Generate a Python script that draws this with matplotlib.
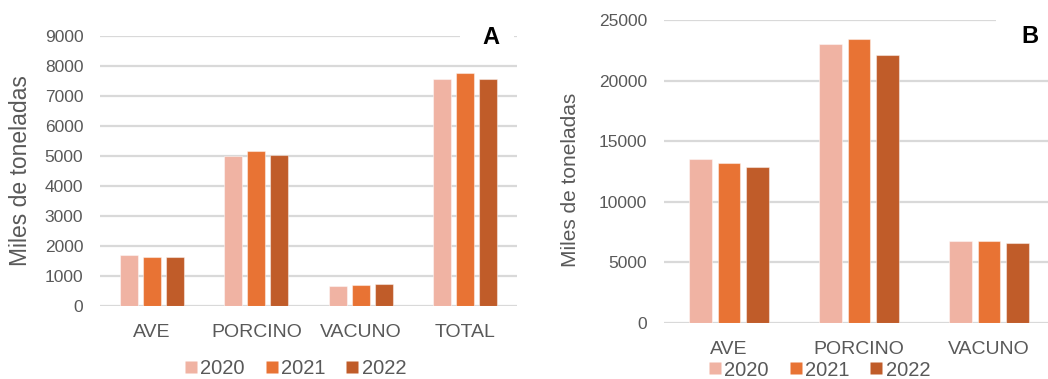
import matplotlib
matplotlib.use("Agg")
import matplotlib.pyplot as plt
import numpy as np
from matplotlib.patches import Rectangle
from matplotlib.lines import Line2D

plt.rcParams['font.family'] = ['Liberation Sans', 'DejaVu Sans']

years = ["2020", "2021", "2022"]
colors = ["#F0B3A3", "#E87334", "#C05C29"]

# Panel A: production (miles de toneladas)
cats_a = ["AVE", "PORCINO", "VACUNO", "TOTAL"]
a_2020 = [1690, 5000, 670, 7570]
a_2021 = [1630, 5170, 700, 7760]
a_2022 = [1630, 5020, 730, 7570]
yticks_a = [0, 1000, 2000, 3000, 4000, 5000, 6000, 7000, 8000, 9000]

# Panel B
cats_b = ["AVE", "PORCINO", "VACUNO"]
b_2020 = [13500, 23050, 6780]
b_2021 = [13170, 23400, 6780]
b_2022 = [12830, 22080, 6610]
yticks_b = [0, 5000, 10000, 15000, 20000, 25000]

TXT = "#595959"
GRID = "#D9D9D9"
W, H = 1048, 379

fig = plt.figure(figsize=(W / 100, H / 100), dpi=100)


def px_axes(left, right, bottom, top):
    return fig.add_axes([left / W, (H - bottom) / H, (right - left) / W, (bottom - top) / H])


def draw_panel(ax, cats, series, yticks, ymax):
    x = np.arange(len(cats))
    width = 0.172
    offs = [-0.22, 0.0, 0.22]
    for vals, off, col, lab in zip(series, offs, colors, years):
        ax.bar(x + off, vals, width, color=col, edgecolor=(1, 1, 1, 0.45),
               linewidth=0.8, label=lab, zorder=3)
    ax.set_xlim(-0.5, len(cats) - 0.5)
    ax.set_ylim(0, ymax)
    ax.set_yticks(yticks)
    ax.set_yticklabels([str(v) for v in yticks])
    ax.set_xticks(x)
    ax.set_xticklabels(cats)
    for s in ax.spines.values():
        s.set_visible(False)
    ax.grid(axis="y", color=GRID, linewidth=1.6, zorder=0)
    ax.set_axisbelow(True)
    ax.tick_params(axis="y", length=0, pad=12, labelsize=12.5, labelcolor=TXT)
    ax.tick_params(axis="x", length=0, pad=13, labelsize=14, labelcolor=TXT)


ax_a = px_axes(100, 517, 306, 35.7)
draw_panel(ax_a, cats_a, [a_2020, a_2021, a_2022], yticks_a, 9000)

ax_b = px_axes(664, 1054, 322.7, 20)
draw_panel(ax_b, cats_b, [b_2020, b_2021, b_2022], yticks_b, 25000)

# y-axis titles
fig.text(21 / W, (H - 171) / H, "Miles de toneladas", rotation=90, ha="center",
         va="center", fontsize=16.5, color=TXT)
fig.text(570 / W, (H - 180) / H, "Miles de toneladas", rotation=90, ha="center",
         va="center", fontsize=15, color=TXT)

# panel letters on white boxes interrupting the top gridline
fig.add_artist(Rectangle((460 / W, (H - 52) / H), 54 / W, 30 / H,
                         transform=fig.transFigure, facecolor="white",
                         edgecolor="none", zorder=1))
fig.add_artist(Rectangle((996 / W, (H - 52) / H), 60 / W, 44 / H,
                         transform=fig.transFigure, facecolor="white",
                         edgecolor="none", zorder=1))
fig.text(490.5 / W, (H - 37.5) / H, "A", ha="center", va="center",
         fontsize=17, fontweight="bold", color="black", zorder=2)
fig.text(1030 / W, (H - 36.5) / H, "B", ha="center", va="center",
         fontsize=17, fontweight="bold", color="black", zorder=2)

# legends
handles = [Line2D([], [], marker="s", linestyle="none", markersize=9,
                  markerfacecolor=c, markeredgecolor="none") for c in colors]
fig.legend(handles, years, loc="center", bbox_to_anchor=(295 / W, (H - 369) / H),
           ncol=3, frameon=False, fontsize=14.5, labelcolor=TXT,
           handlelength=0.7, handletextpad=0.1, columnspacing=1.0,
           borderpad=0, borderaxespad=0)
fig.legend(handles, years, loc="center", bbox_to_anchor=(819 / W, (H - 370) / H),
           ncol=3, frameon=False, fontsize=14.5, labelcolor=TXT,
           handlelength=0.7, handletextpad=0.1, columnspacing=1.0,
           borderpad=0, borderaxespad=0)

fig.savefig("out.png", dpi=100)
